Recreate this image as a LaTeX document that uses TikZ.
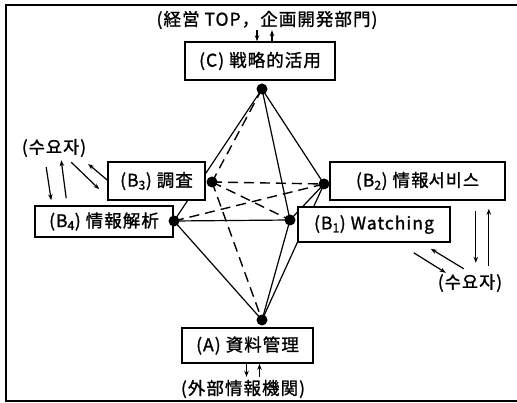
\documentclass[tikz,border=0pt]{standalone}
\usepackage{fontspec}
\setmainfont{Noto Sans CJK JP}[FakeBold=1.2, LetterSpace=6]
\newfontfamily\krfont{Noto Sans CJK KR}[FakeBold=1.2, LetterSpace=6]
\usetikzlibrary{arrows.meta}

\tikzset{
  box/.style={draw, line width=1.6pt, fill=white, inner sep=0pt,
    font=\fontsize{17.5}{17.5}\selectfont},
  label/.style={inner sep=0pt, font=\fontsize{17.5}{17.5}\selectfont},
  link/.style={line width=1.2pt},
  hidden/.style={line width=1.4pt, dash pattern=on 10pt off 6pt},
  flow/.style={line width=1.2pt, -{Stealth[length=6pt,width=4.5pt]}},
}

\begin{document}
\begin{tikzpicture}[x=1pt,y=-1pt]
    \useasboundingbox (0,0) rectangle (517,403);

    % Frame (open on the right)
    \draw[line width=1.6pt] (517,5) -- (6,5) -- (6,401) -- (517,401);

    % Corner points of the network
    \coordinate (hC) at (262,89);
    \coordinate (hB3) at (212,182);
    \coordinate (hB2) at (324,184);
    \coordinate (hB4) at (174,221);
    \coordinate (hB1) at (290,220);
    \coordinate (hA) at (262,320);

    % Solid edges
    \draw[link] (hC) -- (hB4);
    \draw[link] (hC) -- (hB2);
    \draw[link] (hC) -- (hB1);
    \draw[link] (hB4) -- (hB1);
    \draw[link] (hB2) -- (hB1);
    \draw[link] (hB4) -- (hA);
    \draw[link] (hB1) -- (hA);
    \draw[link] (hB2) -- (hA);

    % Hidden edges
    \draw[hidden] (hC) -- (hB3);
    \draw[hidden] (hB3) -- (hB2);
    \draw[hidden] (hB3) -- (hB1);
    \draw[hidden] (hB4) -- (hB2);
    \draw[hidden] (hB3) -- (hA);

    % Boxes
    \node[box, minimum width=150pt, minimum height=38pt] (C) at (260,61) {(C)\ 戦略的活用};
    \node[box, minimum width=97pt, minimum height=38pt] (B3) at (156.5,181) {(B\textsubscript{3})\ 調査};
    \node[box, minimum width=175pt, minimum height=38pt] (B2) at (417.5,181) {(B\textsubscript{2})\ 情報{\krfont 서비스}};
    \node[box, minimum width=138pt, minimum height=31pt] (B4) at (104,221.5) {(B\textsubscript{4})\ 情報解析};
    \node[box, minimum width=152pt, minimum height=35pt] (B1) at (374,224.5) {(B\textsubscript{1})\ Watching};
    \node[box, minimum width=131pt, minimum height=35pt] (A) at (247.5,345.5) {(A)\ 資料管理};

    % Dots on top
    \foreach \h in {hC,hB3,hB2,hB4,hB1,hA}
        \fill (\h) circle (5.5pt);

    % Outside parties
    \node[label] (top) at (267,20) {(経営 TOP，企画開発部門)};
    \node[label] (bottom) at (243,389) {(外部情報機関)};
    \node[label, font=\fontsize{17.5}{17.5}\krfont] (userL) at (54,148) {(수요자)};
    \node[label, font=\fontsize{17.5}{17.5}\krfont] (userR) at (470,283) {(수요자)};

    % Flows to and from the outside
    \draw[flow] ([xshift=-3pt]C.north) ++(0,-11) -- ++(0,11);
    \draw[flow] ([xshift=12pt]C.north) -- ++(0,-11);
    \draw[flow] ([xshift=-1pt]A.south) -- ++(0,13);
    \draw[flow] ([xshift=12pt]A.south) ++(0,13) -- ++(0,-13);

    \draw[flow] ([shift={(12,-38)}]B4.north west) -- ++(5,33);
    \draw[flow] ([shift={(32,-7)}]B4.north west) -- ++(-5,-38);
    \draw[flow] ([shift={(-36,1)}]B3.north west) -- ++(28,27);
    \draw[flow] ([shift={(0,-1)}]B3.west) -- ++(-19,-16);

    \draw[flow] ([shift={(-30,10)}]B2.south east) -- ++(0,52);
    \draw[flow] ([shift={(-17,65)}]B2.south east) -- ++(0,-57);
    \draw[flow] ([shift={(-37,10)}]B1.south east) -- ++(32,20);
    \draw[flow] ([shift={(13,26)}]B1.south east) -- ++(-33,-20);
\end{tikzpicture}
\end{document}
